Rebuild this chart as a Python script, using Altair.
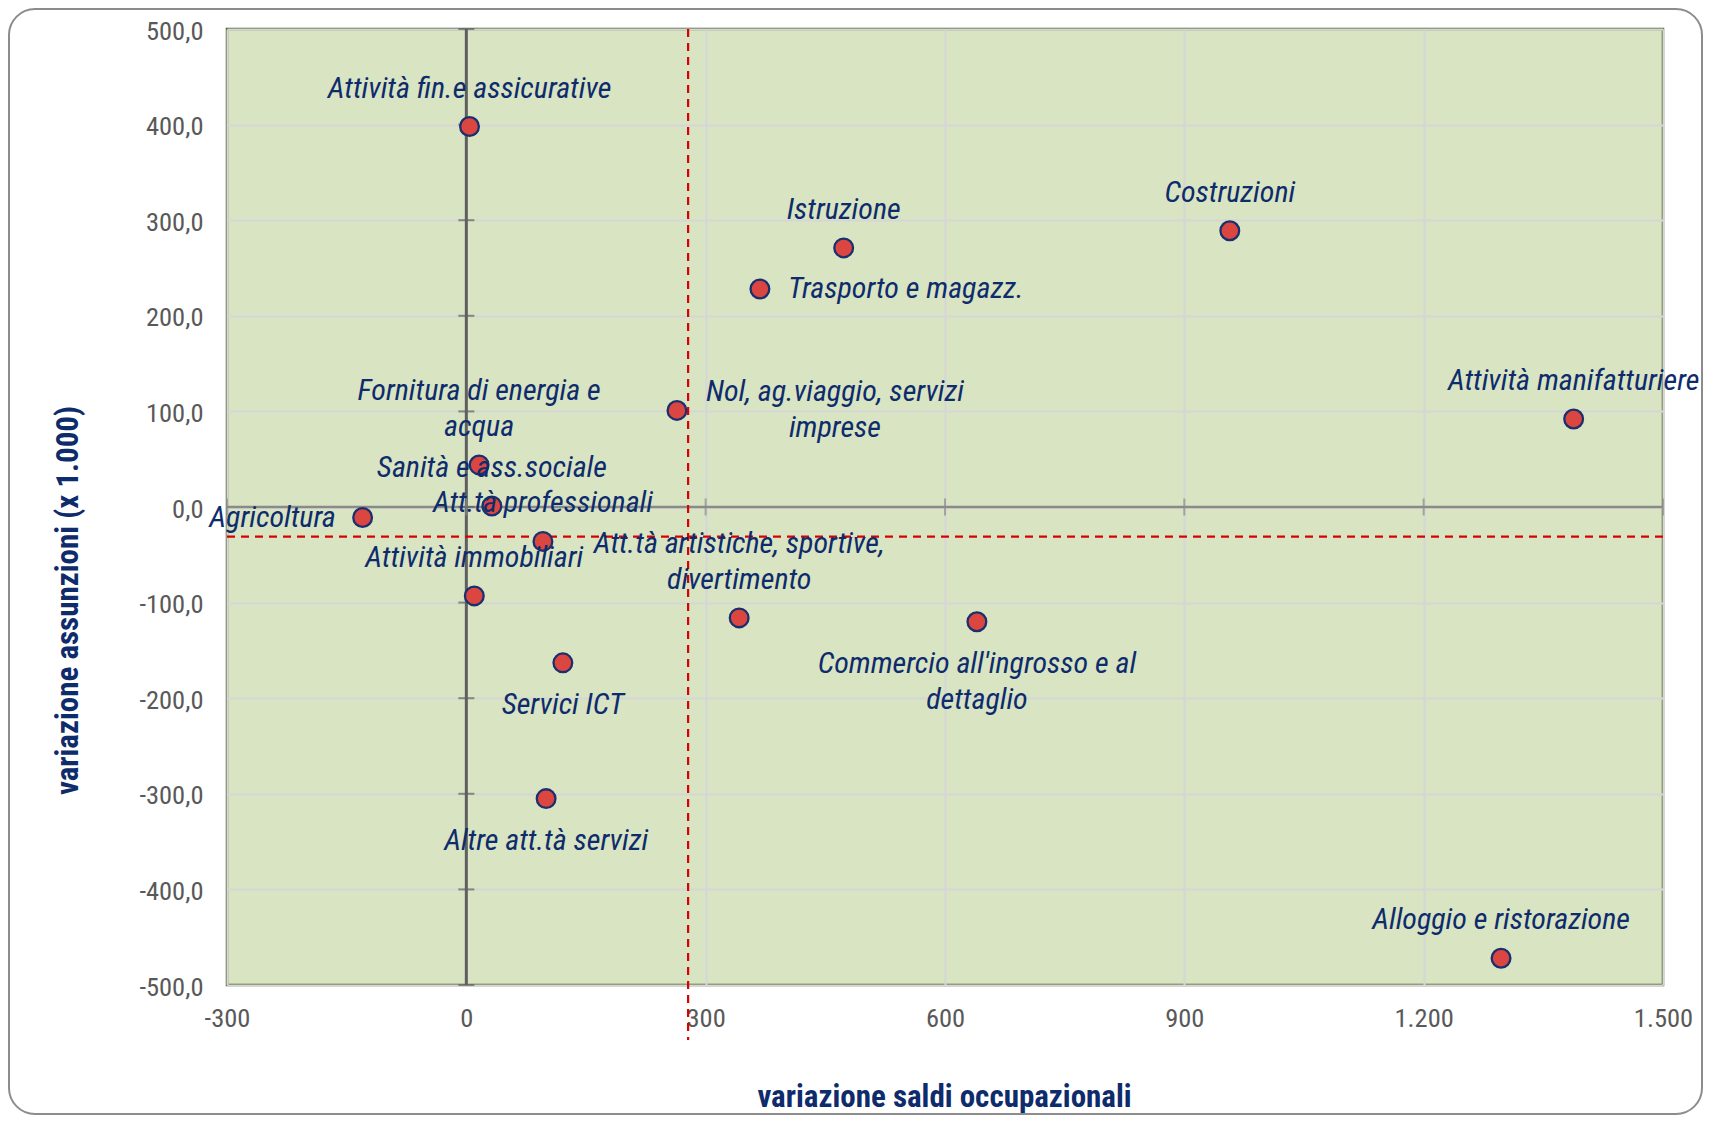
import altair as alt
import pandas as pd

# ---------------- data ----------------
settori = [
    "Attività fin.e assicurative", "Istruzione", "Trasporto e magazz.", "Costruzioni",
    "Attività manifatturiere", "Nol, ag.viaggio, servizi\nimprese", "Fornitura di energia e\nacqua",
    "Sanità e ass.sociale", "Att.tà professionali", "Agricoltura", "Attività immobiliari",
    "Att.tà artistiche, sportive,\ndivertimento", "Commercio all'ingrosso e al\ndettaglio",
    "Servici ICT", "Altre att.tà servizi", "Alloggio e ristorazione",
]
saldi = [4, 473, 368, 957, 1388, 264, 16, 32, 96, -130, 10, 342, 640, 121, 100, 1297]
assunzioni = [398, 271, 228, 289, 92, 101, 44, 1, -36, -11, -93, -116, -120, -163, -305, -472]
posizione = ["sopra", "sopra", "destra", "sopra", "sopra", "destra_centro", "sopra", "sopra",
             "sopra", "sinistra", "sopra", "sopra", "sotto", "sotto", "sotto", "sopra"]

media_saldi = [278]
media_assunzioni = [-31]

x_ticks = [-300, 0, 300, 600, 900, 1200, 1500]
y_ticks = [-500, -400, -300, -200, -100, 0, 100, 200, 300, 400, 500]

df = pd.DataFrame({"settore": settori, "saldi": saldi, "assunzioni": assunzioni, "pos": posizione})
df["righe"] = [s.count("\n") + 1 for s in settori]
df_mx = pd.DataFrame({"v": media_saldi})
df_my = pd.DataFrame({"v": media_assunzioni})
df_xt = pd.DataFrame({"v": x_ticks})
df_yt = pd.DataFrame({"v": y_ticks})
df_one = pd.DataFrame({"a": [0]})

# ---------------- style ----------------
FONT = "Liberation Sans Narrow, Arial Narrow, Roboto Condensed, Liberation Sans, sans-serif"
NAVY = "#0E2B6C"
W, H = 1436, 956
LH = 36

XS = alt.Scale(domain=[-300, 1500], nice=False, zero=False)
YS = alt.Scale(domain=[-500, 500], nice=False, zero=False)

XA = alt.Axis(
    values=x_ticks, title="variazione saldi occupazionali",
    labelExpr="(datum.value < 0 ? '-' : '') + replace(format(abs(datum.value), ','), ',', '.')",
    domain=False, ticks=False, tickSize=0, labelPadding=33, labelBaseline="middle",
    labelFlush=False, labelFont=FONT, labelFontSize=26.5, labelColor="#595959",
    grid=True, gridColor="#D6D6D6", gridWidth=2,
    titleFont=FONT, titleFontSize=31, titleFontWeight="bold", titleColor=NAVY,
    titleX=717, titleY=112, titleBaseline="middle", titleAlign="center",
)
YA = alt.Axis(
    values=y_ticks, title="variazione assunzioni (x 1.000)",
    labelExpr="(datum.value < 0 ? '-' : '') + replace(format(abs(datum.value), '.1f'), '.', ',')",
    domain=False, ticks=False, tickSize=0, labelPadding=24, labelBaseline="middle",
    labelOffset=2, labelFlush=False, labelFont=FONT, labelFontSize=26.5, labelColor="#595959",
    grid=True, gridColor="#D6D6D6", gridWidth=2,
    titleFont=FONT, titleFontSize=31, titleFontWeight="bold", titleColor=NAVY,
    titleAngle=270, titleX=-159, titleY=571, titleBaseline="middle", titleAlign="center",
)


def X(field):
    return alt.X(field, type="quantitative", scale=XS, axis=XA)


def Y(field):
    return alt.Y(field, type="quantitative", scale=YS, axis=YA)


def XD(v):
    return alt.XDatum(v, type="quantitative", scale=XS, axis=XA)


def YD(v):
    return alt.YDatum(v, type="quantitative", scale=YS, axis=YA)


# outer rounded frame (decoration)
frame = alt.Chart(df_one).mark_rect(
    fillOpacity=0, stroke="#8C8C8C", strokeWidth=2, cornerRadius=26
).encode(x=alt.value(-218), x2=alt.value(1475), y=alt.value(-20), y2=alt.value(1085))

# zero axes lines
vzero = alt.Chart(df_one).mark_rule(color="#5F5F5F", strokeWidth=3).encode(x=XD(0))
hzero = alt.Chart(df_one).mark_rule(color="#8A8A8A", strokeWidth=2.5).encode(y=YD(0))

# crossing ticks
xt = alt.Chart(df_xt).mark_tick(orient="vertical", size=17, thickness=2, color="#8A8A8A").encode(
    x=X("v"), y=YD(0))
yt = alt.Chart(df_yt).mark_tick(orient="horizontal", size=16, thickness=2, color="#5F5F5F").encode(
    y=Y("v"), x=XD(0))

# dashed average lines
vdash = alt.Chart(df_mx).mark_rule(color="#D90000", strokeWidth=2.2, strokeDash=[8, 6]).encode(
    x=X("v"), y=alt.value(0), y2=alt.value(1011))
hdash = alt.Chart(df_my).mark_rule(color="#D90000", strokeWidth=2.2, strokeDash=[8, 6]).encode(
    y=Y("v"), x=alt.value(0), x2=alt.value(W + 2))

# points
pts = alt.Chart(df).mark_point(
    shape="circle", filled=True, size=350, fill="#DC4640", stroke="#1B2F6E", strokeWidth=2.3, opacity=1
).encode(x=X("saldi"), y=Y("assunzioni"))

base = alt.Chart(df)
txt_kw = dict(font=FONT, fontSize=30, fontStyle="italic", color=NAVY, lineBreak="\n", lineHeight=LH)


def lab(pos, righe, **kw):
    return base.transform_filter(
        (alt.datum.pos == pos) & (alt.datum.righe == righe)
    ).mark_text(**txt_kw, **kw).encode(x=X("saldi"), y=Y("assunzioni"), text="settore:N")


labels = [
    lab("sopra", 1, align="center", baseline="bottom", dy=-23),
    lab("sopra", 2, align="center", baseline="bottom", dy=-23 - LH),
    lab("sotto", 1, align="center", baseline="top", dy=27),
    lab("sotto", 2, align="center", baseline="top", dy=27),
    lab("sinistra", 1, align="right", baseline="middle", dx=-27),
    lab("destra", 1, align="left", baseline="middle", dx=28),
    lab("destra_centro", 2, align="center", baseline="middle", dx=158, dy=-LH / 2),
]

chart = alt.layer(frame, vzero, hzero, xt, yt, vdash, hdash, pts, *labels).properties(
    width=W, height=H,
    autosize=alt.AutoSizeParams(type="none"),
    padding={"left": 219, "top": 21, "right": 40, "bottom": 131},
    background="white",
).configure_view(fill="#D8E4C2", stroke="#4F6228", strokeWidth=2.5)

chart.save("out.html", embed_options={"renderer": "svg", "actions": False})
